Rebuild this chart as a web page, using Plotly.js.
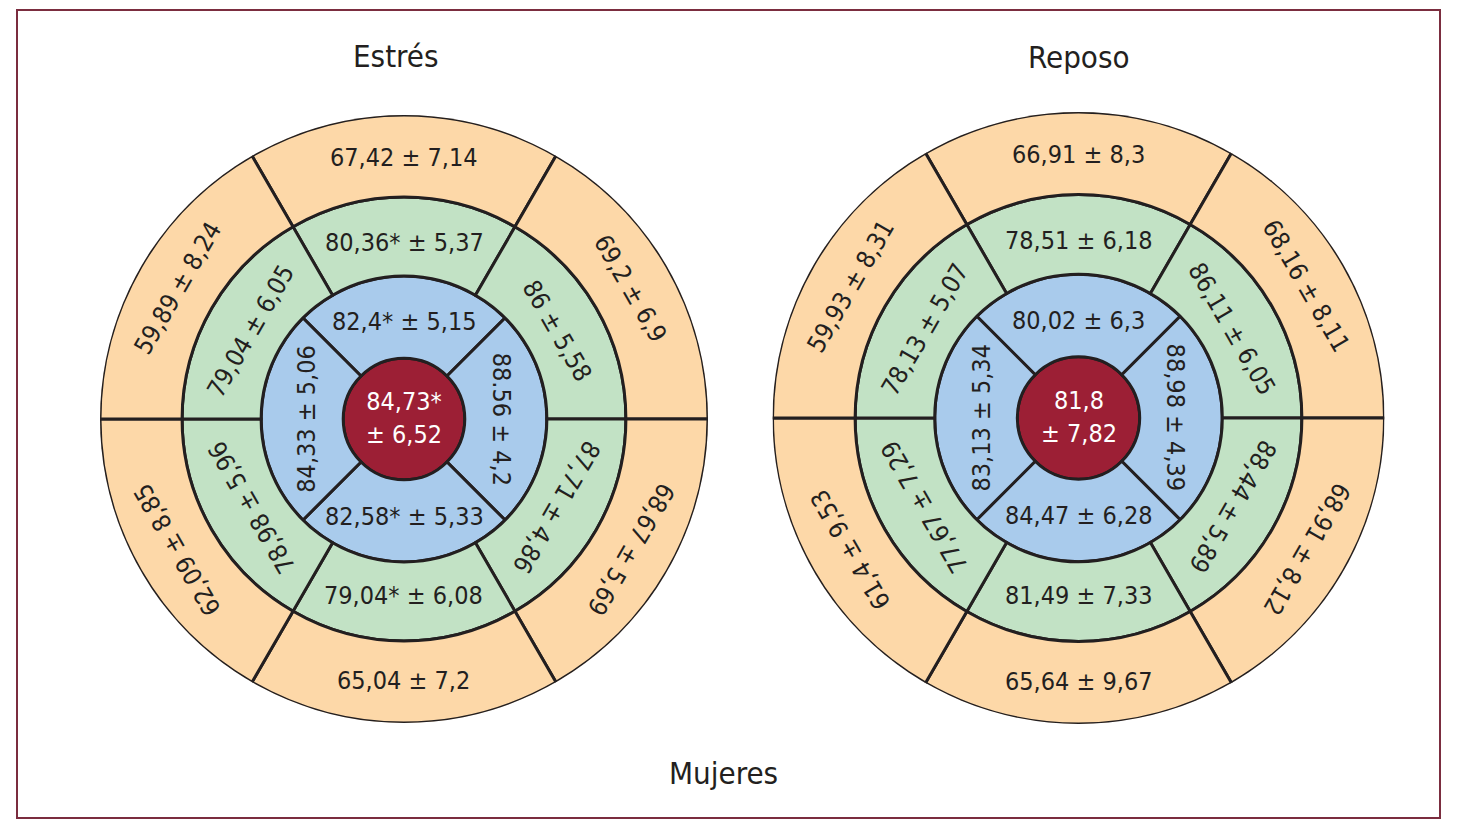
<!DOCTYPE html>
<html>
<head>
<meta charset="utf-8">
<script src="https://cdn.plot.ly/plotly-3.0.1.min.js"></script>
<style>
  html, body { margin: 0; padding: 0; background: #fff; }
  #chart { width: 1466px; height: 833px; }
</style>
</head>
<body>
<div id="chart"></div>
<script>
// segment angles (degrees, 0 = 3 o'clock, counterclockwise)
const outerAngles = [90, 30, 330, 270, 210, 150];
const innerAngles = [90, 0, 270, 180];

// ring limits (radial units, outer edge = 100)
const ringEdges = [0, 20, 47, 73, 100];
const labelRadius = { inner: 32, middle: 58, outer: 86 };

const panelTitles = ['Estrés', 'Reposo'];
const footer = 'Mujeres';

// Estrés
const stressOuter = ['67,42 ± 7,14', '69,2 ± 6,9', '68,67 ± 5,69', '65,04 ± 7,2', '62,09 ± 8,85', '59,89 ± 8,24'];
const stressMiddle = ['80,36* ± 5,37', '86 ± 5,58', '87,71 ± 4,86', '79,04* ± 6,08', '78,98 ± 5,96', '79,04 ± 6,05'];
const stressInner = ['82,4* ± 5,15', '88.56 ± 4,2', '82,58* ± 5,33', '84,33 ± 5,06'];
const stressCenter = ['84,73*', '± 6,52'];

// Reposo
const restOuter = ['66,91 ± 8,3', '68,16 ± 8,11', '68,91 ± 8,12', '65,64 ± 9,67', '61,4 ± 9,53', '59,93 ± 8,31'];
const restMiddle = ['78,51 ± 6,18', '86,11 ± 6,05', '88,44 ± 5,89', '81,49 ± 7,33', '77,67 ± 7,29', '78,13 ± 5,07'];
const restInner = ['80,02 ± 6,3', '88,98 ± 4,39', '84,47 ± 6,28', '83,13 ± 5,34'];
const restCenter = ['81,8', '± 7,82'];

const colors = { center: '#9c1f35', inner: '#a9cbec', middle: '#c2e2c5', outer: '#fdd8a8' };
const edge = '#231f20';
const W = 1466, H = 833;
const FONT = '"Liberation Sans Narrow", "DejaVu Sans Condensed", Arial, sans-serif';

// pixel geometry of the two discs
const panels = [
  { cx: 404, cy: 419, R: 304, outer: stressOuter, middle: stressMiddle, inner: stressInner, center: stressCenter },
  { cx: 1078.5, cy: 418, R: 306, outer: restOuter, middle: restMiddle, inner: restInner, center: restCenter }
];

const data = [];
const annotations = [];
const layout = {
  width: W, height: H,
  margin: { l: 0, r: 0, t: 0, b: 0 },
  paper_bgcolor: '#fff',
  showlegend: false,
  font: { family: FONT, color: '#231f20' },
  shapes: [{
    type: 'rect', xref: 'paper', yref: 'paper',
    x0: 17 / W, x1: 1440 / W, y0: 1 - 818 / H, y1: 1 - 10 / H,
    line: { color: '#7b2d3f', width: 2 }
  }],
  annotations: annotations
};

function ring(sub, angles, width, lo, hi, color) {
  data.push({
    type: 'barpolar', subplot: sub,
    theta: angles, width: angles.map(() => width),
    base: angles.map(() => ringEdges[lo]),
    r: angles.map(() => ringEdges[hi] - ringEdges[lo]),
    marker: { color: color, line: { color: edge, width: 3 } },
    hoverinfo: 'skip'
  });
}

function label(p, text, theta, rr, color) {
  const d = rr / 100 * p.R;
  const t = theta * Math.PI / 180;
  let ang = theta === 270 ? 0 : 90 - theta;
  if (ang < -180) ang += 360;
  annotations.push({
    xref: 'paper', yref: 'paper',
    x: (p.cx + d * Math.cos(t)) / W,
    y: 1 - (p.cy - d * Math.sin(t)) / H,
    text: text, showarrow: false, textangle: ang,
    xanchor: 'center', yanchor: 'middle',
    font: { family: FONT, size: 25, color: color || '#231f20' }
  });
}

panels.forEach((p, i) => {
  const sub = i === 0 ? 'polar' : 'polar2';
  layout[sub] = {
    domain: { x: [(p.cx - p.R) / W, (p.cx + p.R) / W], y: [1 - (p.cy + p.R) / H, 1 - (p.cy - p.R) / H] },
    bgcolor: 'rgba(0,0,0,0)',
    radialaxis: { visible: false, range: [0, 100] },
    angularaxis: { visible: false, rotation: 0, direction: 'counterclockwise' },
    bargap: 0
  };
  ring(sub, [0], 360, 0, 1, colors.center);
  ring(sub, innerAngles, 90, 1, 2, colors.inner);
  ring(sub, outerAngles, 60, 2, 3, colors.middle);
  ring(sub, outerAngles, 60, 3, 4, colors.outer);

  outerAngles.forEach((a, k) => label(p, p.outer[k], a, labelRadius.outer));
  outerAngles.forEach((a, k) => label(p, p.middle[k], a, labelRadius.middle));
  innerAngles.forEach((a, k) => label(p, p.inner[k], a, labelRadius.inner));
  annotations.push({
    xref: 'paper', yref: 'paper', x: p.cx / W, y: 1 - (p.cy - 1) / H,
    text: p.center.join('<br>'), showarrow: false,
    xanchor: 'center', yanchor: 'middle',
    font: { family: FONT, size: 25, color: '#ffffff' }
  });
});

// titles
[[396, 56], [1079, 57]].forEach((pos, i) => {
  annotations.push({
    xref: 'paper', yref: 'paper', x: pos[0] / W, y: 1 - pos[1] / H,
    text: panelTitles[i], showarrow: false, xanchor: 'center', yanchor: 'middle',
    font: { family: FONT, size: 31, color: '#231f20' }
  });
});
annotations.push({
  xref: 'paper', yref: 'paper', x: 723 / W, y: 1 - 773 / H,
  text: footer, showarrow: false, xanchor: 'center', yanchor: 'middle',
  font: { family: FONT, size: 31, color: '#231f20' }
});

Plotly.newPlot('chart', data, layout, { staticPlot: true, displayModeBar: false });
</script>
</body>
</html>
